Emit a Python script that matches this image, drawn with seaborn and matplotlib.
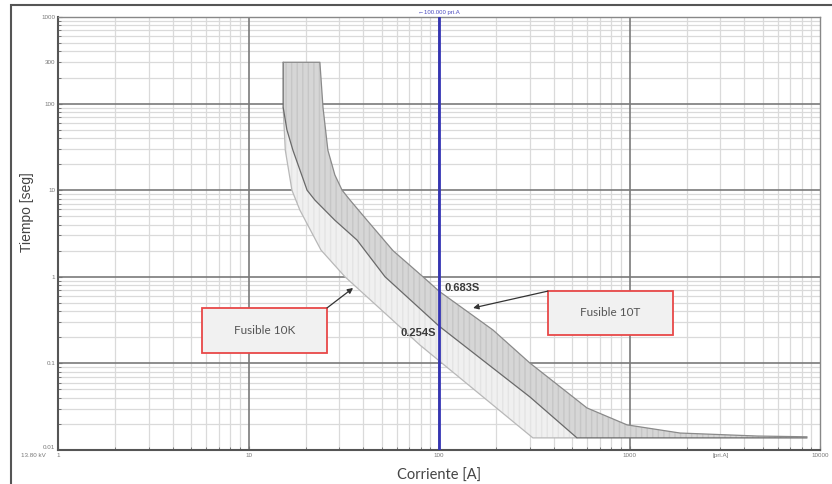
import matplotlib
matplotlib.use("Agg")
import matplotlib.pyplot as plt
import seaborn as sns
import pandas as pd
from matplotlib.patches import Rectangle
from matplotlib.ticker import LogLocator, NullFormatter, FixedLocator

# Fusible 10K - fusion minima (borde izquierdo de la banda clara)
k_min_i = [15.2, 15.6, 16.9, 18.6, 24.0, 32.1, 79.4, 311]
k_min_t = [91, 29, 10, 5.9, 2.04, 1.0, 0.163, 0.0138]

# curva central (10K despeje total / 10T fusion minima)
mid_i = [15.2, 15.2, 15.9, 17.1, 20.3, 22.3, 28.4, 37.1, 52.1, 100, 300, 530]
mid_t = [300, 91, 50, 29, 10, 7.7, 4.5, 2.66, 1.0, 0.27, 0.041, 0.0138]

# Fusible 10T - despeje total (borde derecho)
t_max_i = [23.7, 24.6, 26.1, 28.4, 31.0, 34.1, 41.9, 57.4, 82.4, 100, 192, 300,
           598, 971, 1842, 4670, 8550]
t_max_t = [300, 91, 29, 15, 10, 7.7, 4.5, 2.0, 1.0, 0.683, 0.243, 0.101,
           0.0306, 0.0195, 0.0157, 0.0145, 0.0142]

t_floor = 0.0138
i_end = 8550
i_falla = 100

x_ticks = [1, 10, 100, 1000, 10000]
x_labels = ["1", "10", "100", "1000", "10000"]
y_ticks = [0.1, 1, 10, 100, 1000]
y_labels = ["0.1", "1", "10", "100", "1000"]

sns.set_theme(style="white")
plt.rcParams["font.family"] = ["Liberation Sans", "DejaVu Sans"]

fig = plt.figure(figsize=(8.32, 4.84), dpi=100)
ax = fig.add_axes([58 / 832, 1 - 450 / 484, 762 / 832, 433 / 484])
ax.set_xscale("log")
ax.set_yscale("log")
ax.set_xlim(1, 10000)
ax.set_ylim(0.01, 1000)

# grid: menor con la rejilla, mayor con lineas encima
ax.xaxis.set_major_locator(FixedLocator(x_ticks))
ax.yaxis.set_major_locator(FixedLocator(y_ticks))
ax.xaxis.set_minor_locator(LogLocator(base=10, subs=range(2, 10)))
ax.yaxis.set_minor_locator(LogLocator(base=10, subs=range(2, 10)))
ax.xaxis.set_minor_formatter(NullFormatter())
ax.yaxis.set_minor_formatter(NullFormatter())
ax.grid(True, which="minor", color="#dadada", lw=0.9)
ax.set_axisbelow(True)
for xv in x_ticks[1:-1]:
    ax.axvline(xv, color="#7a7a7a", lw=1.2, zorder=1)
for yv in y_ticks[:-1]:
    ax.axhline(yv, color="#7a7a7a", lw=1.2, zorder=1)

# bandas
light_x = k_min_i + mid_i[1:][::-1]
light_y = k_min_t + mid_t[1:][::-1]
ax.fill(light_x, light_y, facecolor="#f0f0f0", edgecolor="#e4e4e4",
        hatch="|||", lw=0, zorder=2)
dark_x = mid_i + [i_end] + t_max_i[::-1]
dark_y = mid_t + [t_floor] + t_max_t[::-1]
ax.fill(dark_x, dark_y, facecolor="#d6d6d6", edgecolor="#c6c6c6",
        hatch="|||", lw=0, zorder=3)

curves = pd.concat([
    pd.DataFrame({"i": k_min_i + [mid_i[-1]], "t": k_min_t + [t_floor], "c": "k_min"}),
    pd.DataFrame({"i": mid_i + [i_end], "t": mid_t + [t_floor], "c": "mid"}),
    pd.DataFrame({"i": [mid_i[0]] + t_max_i, "t": [mid_t[0]] + t_max_t, "c": "t_max"}),
])
pal = {"k_min": "#b8b8b8", "mid": "#6a6a6a", "t_max": "#8a8a8a"}
sns.lineplot(data=curves, x="i", y="t", hue="c", units="c", estimator=None,
             sort=False, palette=pal, lw=0.9, legend=False, ax=ax, zorder=4)

# corriente de falla
ax.axvline(i_falla, color="#3434b4", lw=2, zorder=5)
ax.text(i_falla, 1.004, "\u2190100.000 pri.A", transform=ax.get_xaxis_transform(),
        ha="center", va="bottom", fontsize=4.3, color="#4a4ac0")

ax.text(107, 0.74, "0.683S", fontsize=8, fontweight="bold", color="#3a3a3a",
        ha="left", va="center", zorder=6)
ax.text(97, 0.224, "0.254S", fontsize=8, fontweight="bold", color="#3a3a3a",
        ha="right", va="center", zorder=6)

# recuadros
for (x0, y0, w, h, txt) in [(0.189, 0.224, 0.164, 0.104, "Fusible 10K"),
                            (0.643, 0.266, 0.164, 0.101, "Fusible 10T")]:
    ax.add_patch(Rectangle((x0, y0), w, h, transform=ax.transAxes,
                           facecolor="#f1f1f1", edgecolor="#e84848", lw=1.3, zorder=7))
    ax.text(x0 + w / 2, y0 + h / 2, txt, transform=ax.transAxes, ha="center",
            va="center", fontsize=8.5, color="#555555", family=["Lato", "DejaVu Sans"],
            zorder=8)

ax.annotate("", xy=(35.4, 0.743), xycoords="data", xytext=(0.353, 0.328),
            textcoords="axes fraction",
            arrowprops=dict(arrowstyle="-|>", color="#333333", lw=0.9,
                            mutation_scale=8, shrinkA=0, shrinkB=0), zorder=8)
ax.annotate("", xy=(151, 0.437), xycoords="data", xytext=(0.643, 0.367),
            textcoords="axes fraction",
            arrowprops=dict(arrowstyle="-|>", color="#333333", lw=0.9,
                            mutation_scale=8, shrinkA=0, shrinkB=0), zorder=8)

# ejes y etiquetas
ax.set_xticklabels(x_labels)
ax.set_yticklabels(y_labels)
ax.tick_params(which="both", direction="in", labelsize=4.5, labelcolor="#777777",
               color="#666666", bottom=True, left=True)
ax.tick_params(which="major", length=3, width=0.8, pad=2)
ax.tick_params(which="minor", length=2, width=0.6)
ax.text(-0.004, 0.01, "0.01", transform=ax.get_yaxis_transform(), ha="right",
        va="bottom", fontsize=4.5, color="#777777")
ax.text(-0.004, 300, "300", transform=ax.get_yaxis_transform(), ha="right",
        va="center", fontsize=4.5, color="#777777")
ax.text(3000, -0.008, "[pri.A]", transform=ax.get_xaxis_transform(), ha="center",
        va="top", fontsize=4.5, color="#777777")
ax.text(-0.016, -0.006, "13.80 kV", transform=ax.transAxes, ha="right",
        va="top", fontsize=4.5, color="#777777")

for s in ax.spines.values():
    s.set_color("#888888")
    s.set_linewidth(1)
ax.spines["left"].set_color("#555555")
ax.spines["bottom"].set_color("#555555")
ax.spines["left"].set_linewidth(1.5)
ax.spines["bottom"].set_linewidth(1.5)

ax.set_xlabel("Corriente [A]", fontsize=10.5, color="#444444",
              family=["Lato", "DejaVu Sans"], labelpad=8)
ax.set_ylabel("Tiempo [seg]", fontsize=10, color="#444444", labelpad=6)
ax.yaxis.set_label_coords(-0.031, 0.55)

# marco exterior
fig.patches.append(Rectangle((11 / 832, -0.05), 1.1, 1 - 5 / 484 + 0.05,
                             transform=fig.transFigure, fill=False,
                             edgecolor="#555555", lw=1.5))

fig.savefig("out.png", dpi=100)
